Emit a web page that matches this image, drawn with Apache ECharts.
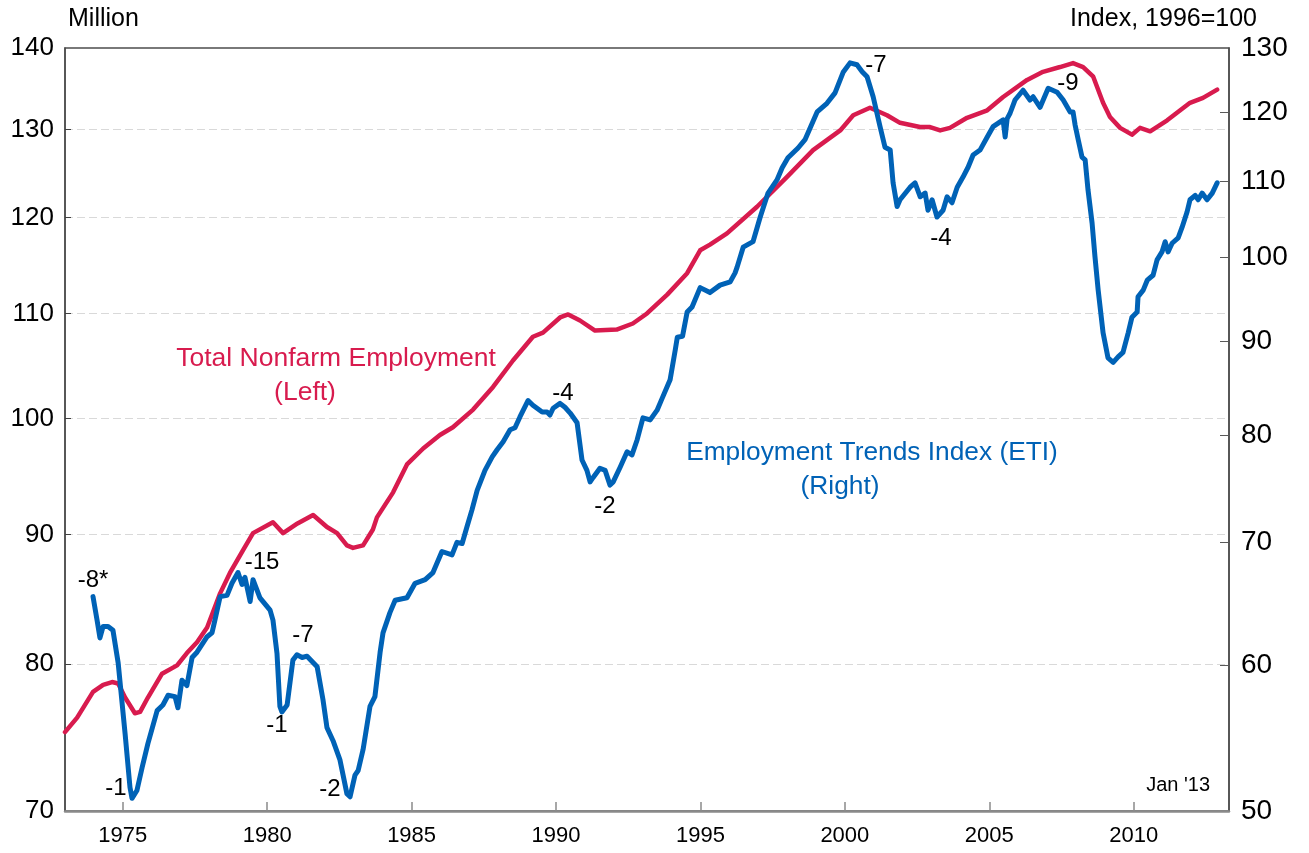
<!DOCTYPE html>
<html><head><meta charset="utf-8">
<script src="https://cdn.jsdelivr.net/npm/echarts@6/dist/echarts.min.js"></script>
<style>html,body{margin:0;padding:0;background:#fff}#c{width:1309px;height:853px}</style>
</head><body><div id="c"></div>
<script>
// ---- data ----
const xTicks = [1975, 1980, 1985, 1990, 1995, 2000, 2005, 2010];
const leftTicks = [70, 80, 90, 100, 110, 120, 130, 140];
const rightTicks = [50, 60, 70, 80, 90, 100, 110, 120, 130];
const leftInnerTicks = [80, 90, 100, 110, 120, 130];
const rightInnerTicks = [60, 70, 80, 90, 100, 110, 120];

// Total Nonfarm Employment, million (left, log scale)
const nonfarmYears = [1973.0,1973.42,1973.97,1974.32,1974.63,1974.84,1975.08,1975.42,1975.6,1975.87,1976.36,1976.88,1977.22,1977.57,1977.92,1978.37,1978.71,1979.16,1979.51,1980.2,1980.55,1981.05,1981.59,1982.07,1982.42,1982.76,1982.97,1983.32,1983.66,1983.8,1984.36,1984.84,1985.4,1985.98,1986.43,1987.13,1987.82,1988.51,1989.2,1989.55,1990.14,1990.42,1990.83,1991.35,1992.1,1992.66,1993.15,1993.85,1994.54,1994.99,1995.33,1995.92,1996.96,1997.99,1998.9,1999.84,2000.29,2000.87,2001.46,2001.91,2002.6,2002.95,2003.3,2003.64,2004.23,2004.93,2005.48,2006.31,2006.86,2007.45,2007.9,2008.25,2008.6,2008.94,2009.18,2009.53,2009.94,2010.22,2010.57,2011.16,2011.95,2012.4,2012.89];
const nonfarmValues = [75.2,76.2,78.0,78.5,78.7,78.6,77.6,76.5,76.6,77.6,79.3,79.9,80.8,81.6,82.7,85.3,86.9,88.7,90.1,91.0,90.1,90.9,91.6,90.6,90.1,89.1,88.9,89.1,90.4,91.4,93.5,95.9,97.3,98.5,99.2,100.8,102.9,105.4,107.7,108.1,109.6,109.9,109.3,108.3,108.4,109.0,110.0,111.9,114.1,116.5,117.1,118.3,121.2,124.5,127.6,129.9,131.7,132.6,131.7,130.8,130.3,130.3,129.9,130.2,131.4,132.3,133.9,136.0,137.0,137.6,138.1,137.6,136.4,133.2,131.5,130.2,129.4,130.2,129.8,131.1,133.2,133.8,134.8];

// Employment Trends Index, 1996=100 (right, log scale)
const etiYears = [1973.97,1974.11,1974.21,1974.32,1974.49,1974.66,1974.84,1975.08,1975.25,1975.32,1975.49,1975.67,1975.87,1976.19,1976.39,1976.57,1976.81,1976.91,1977.05,1977.22,1977.40,1977.57,1977.92,1978.09,1978.19,1978.37,1978.61,1978.78,1978.99,1979.13,1979.23,1979.41,1979.51,1979.75,1980.10,1980.20,1980.34,1980.44,1980.51,1980.69,1980.89,1981.03,1981.21,1981.38,1981.73,1981.93,1982.07,1982.28,1982.52,1982.76,1982.87,1983.04,1983.15,1983.32,1983.56,1983.73,1983.91,1984.01,1984.25,1984.43,1984.84,1985.12,1985.47,1985.74,1986.05,1986.40,1986.57,1986.75,1986.92,1987.09,1987.27,1987.54,1987.79,1987.96,1988.17,1988.41,1988.58,1988.75,1989.03,1989.20,1989.52,1989.69,1989.79,1989.90,1990.14,1990.31,1990.49,1990.73,1990.90,1991.07,1991.18,1991.28,1991.52,1991.70,1991.87,1991.98,1992.22,1992.46,1992.63,1992.81,1993.01,1993.26,1993.50,1993.67,1993.95,1994.13,1994.20,1994.38,1994.54,1994.71,1994.99,1995.33,1995.68,1996.03,1996.20,1996.27,1996.48,1996.82,1997.07,1997.34,1997.65,1997.83,1998.03,1998.38,1998.62,1999.04,1999.38,1999.66,1999.94,2000.18,2000.42,2000.60,2000.77,2000.98,2001.22,2001.39,2001.57,2001.67,2001.81,2001.91,2002.26,2002.43,2002.61,2002.78,2002.88,2003.02,2003.19,2003.40,2003.54,2003.71,2003.89,2004.09,2004.27,2004.44,2004.68,2004.93,2005.13,2005.48,2005.55,2005.62,2005.72,2005.89,2006.17,2006.41,2006.52,2006.76,2007.04,2007.35,2007.56,2007.80,2007.90,2007.97,2008.08,2008.21,2008.32,2008.42,2008.56,2008.66,2008.77,2008.94,2009.11,2009.29,2009.46,2009.63,2009.81,2009.94,2010.12,2010.15,2010.33,2010.47,2010.67,2010.81,2010.98,2011.09,2011.19,2011.33,2011.54,2011.68,2011.85,2011.95,2012.13,2012.23,2012.37,2012.54,2012.72,2012.89];
const etiValues = [65.4,63.5,62.1,63.0,63.0,62.7,60.2,55.1,51.5,50.8,51.3,52.8,54.4,56.7,57.1,57.8,57.7,56.9,58.9,58.5,60.6,61.0,62.2,62.5,63.5,65.4,65.5,66.5,67.4,66.4,67.0,65.0,66.8,65.3,64.3,63.5,60.9,57.0,56.6,57.1,60.4,60.8,60.6,60.7,59.9,57.5,55.5,54.6,53.3,51.1,50.9,52.3,52.6,54.0,57.0,57.7,61.0,62.5,64.1,65.1,65.3,66.5,66.8,67.4,69.2,68.9,70.0,69.9,71.4,72.9,74.7,76.6,77.9,78.6,79.4,80.6,80.8,81.9,83.6,83.1,82.4,82.4,82.1,82.8,83.3,82.9,82.3,81.3,77.6,76.6,75.5,75.9,76.8,76.6,75.2,75.5,76.9,78.4,78.1,79.6,81.8,81.6,82.6,83.8,85.8,89.1,90.5,90.6,93.4,94.0,96.3,95.7,96.6,97.0,98.1,98.8,101.3,102.0,105.2,108.4,110.2,111.9,113.3,114.7,115.9,120.0,121.3,122.9,126.1,127.6,127.3,126.2,125.4,122.3,117.8,114.8,114.4,109.8,106.6,107.5,109.2,109.8,107.9,108.4,106.1,107.5,105.2,106.1,107.9,107.1,109.2,110.6,112.0,113.7,114.4,116.3,117.8,118.8,116.3,119.0,119.8,121.8,123.3,121.8,122.3,120.7,123.6,123.0,121.8,120.0,120.0,118.1,115.9,113.4,113.0,108.8,104.4,100.1,96.0,91.0,88.2,87.7,88.3,88.8,91.0,92.8,93.4,95.2,96.0,97.2,97.8,99.7,100.7,102.0,100.7,101.8,102.5,103.9,105.9,107.5,108.1,107.5,108.4,107.5,108.4,109.8];

// ---- chart ----
const FONT = '"Liberation Sans", Arial, Helvetica, sans-serif';
const RED = '#D81B4E';
const BLUE = '#0062B6';
const zip = (xs, ys) => xs.map((x, i) => [x, ys[i]]);
const chart = echarts.init(document.getElementById('c'));

function txt(text, x, y, size, color, align) {
  return {
    type: 'text', x: x, y: y, silent: true, z: 100,
    style: {
      text: text, fill: color || '#000',
      font: (size || 24) + 'px ' + FONT,
      textAlign: align || 'center', textVerticalAlign: 'middle',
      align: align || 'center', verticalAlign: 'middle'
    }
  };
}

const option = {
  animation: false,
  backgroundColor: '#ffffff',
  textStyle: { fontFamily: FONT },
  grid: {
    left: 65, right: 80, top: 48, bottom: 42,
    show: true, borderColor: '#4d4d4d', borderWidth: 1.5,
    containLabel: false, outerBoundsMode: 'none'
  },
  xAxis: {
    type: 'value', min: 1973, max: 2013.3,
    axisLine: { show: true, onZero: false, lineStyle: { color: '#8a8a8a', width: 2.5 } },
    axisTick: { show: true, inside: true, length: 9, customValues: xTicks, lineStyle: { color: '#8a8a8a', width: 1.5 } },
    axisLabel: { customValues: xTicks, fontSize: 22, color: '#000', margin: 14, fontFamily: FONT,
      formatter: v => String(Math.round(v)) },
    splitLine: { show: false }
  },
  yAxis: [
    {
      type: 'log', logBase: 10, min: 70, max: 140, position: 'left',
      axisLine: { show: true, lineStyle: { color: '#4d4d4d', width: 1.5 } },
      axisTick: { show: true, inside: true, length: 6, customValues: leftInnerTicks, lineStyle: { color: '#404040', width: 1 } },
      axisLabel: { customValues: leftTicks, fontSize: 26, color: '#000', margin: 11, fontFamily: FONT,
        formatter: v => String(Math.round(v)) },
      splitLine: { show: true, lineStyle: { color: '#d9d9d9', type: [8, 4], width: 1 } },
      minorTick: { show: false }, minorSplitLine: { show: false }
    },
    {
      type: 'log', logBase: 10, min: 50, max: 130, position: 'right',
      axisLine: { show: true, lineStyle: { color: '#4d4d4d', width: 1.5 } },
      axisTick: { show: true, inside: true, length: 9, customValues: rightInnerTicks, lineStyle: { color: '#595959', width: 1 } },
      axisLabel: { customValues: rightTicks, fontSize: 28, color: '#000', margin: 12, fontFamily: FONT,
        formatter: v => String(Math.round(v)) },
      splitLine: { show: false },
      minorTick: { show: false }, minorSplitLine: { show: false }
    }
  ],
  series: [
    {
      name: 'Total Nonfarm Employment', type: 'line', yAxisIndex: 0,
      data: zip(nonfarmYears, nonfarmValues),
      showSymbol: false, symbol: 'none', smooth: false,
      lineStyle: { color: RED, width: 4.5, join: 'round', cap: 'round' }, z: 3
    },
    {
      name: 'Employment Trends Index (ETI)', type: 'line', yAxisIndex: 1,
      data: zip(etiYears, etiValues),
      showSymbol: false, symbol: 'none', smooth: false,
      lineStyle: { color: BLUE, width: 5, join: 'round', cap: 'round' }, z: 4
    }
  ],
  graphic: [
    txt('Million', 68, 19, 25, '#000', 'left'),
    txt('Index, 1996=100', 1257, 19, 25, '#000', 'right'),
    txt('Total Nonfarm Employment', 336, 359, 26.5, RED),
    txt('(Left)', 305, 393, 26.5, RED),
    txt('Employment Trends Index (ETI)', 872, 453, 26.3, BLUE),
    txt('(Right)', 840, 487, 26.3, BLUE),
    txt('-8*', 93, 580, 24),
    txt('-15', 262, 562, 24),
    txt('-7', 303, 635, 24),
    txt('-1', 277, 725, 24),
    txt('-1', 116, 788, 24),
    txt('-2', 330, 789, 24),
    txt('-4', 563, 393, 24),
    txt('-2', 605, 506, 24),
    txt('-7', 876, 65, 24),
    txt('-4', 941, 238, 24),
    txt('-9', 1068, 83, 24),
    txt("Jan '13", 1210, 785, 20, '#000', 'right')
  ]
};
chart.setOption(option);
</script>
</body></html>
